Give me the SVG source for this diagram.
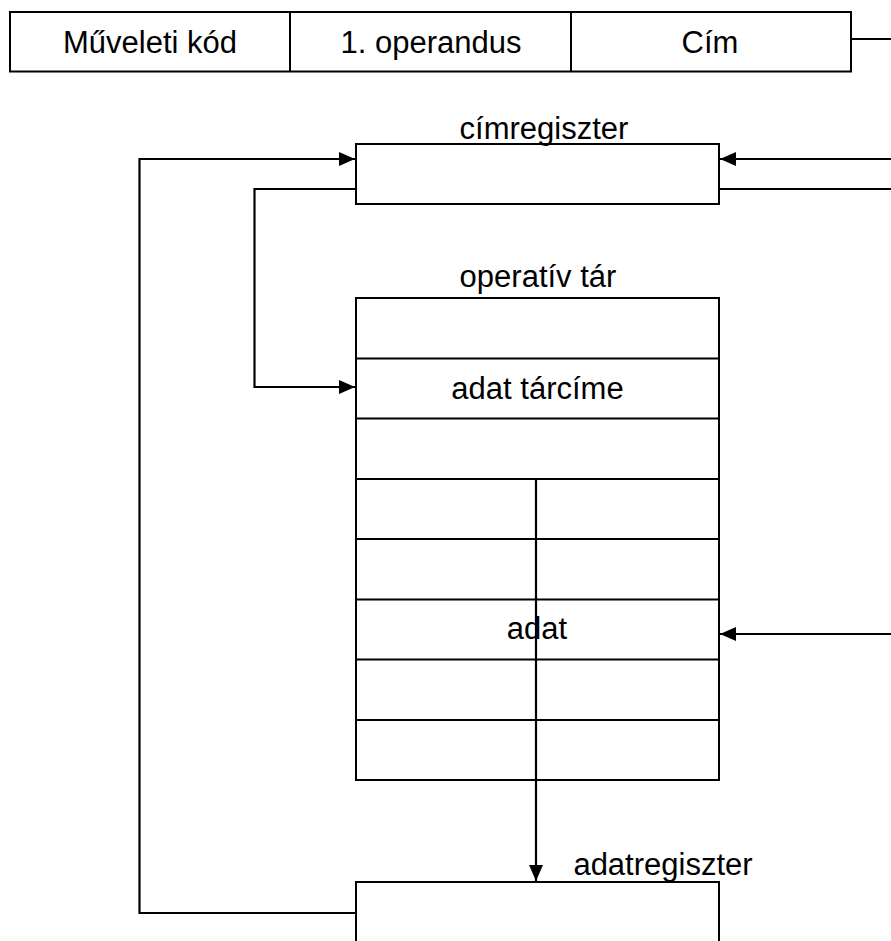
<svg xmlns="http://www.w3.org/2000/svg" width="891" height="941" viewBox="0 0 891 941">
  <style>
    .box { fill: #ffffff; stroke: #000000; stroke-width: 2; }
    .rule { stroke: #000000; stroke-width: 2; fill: none; }
    .wire { stroke: #000000; stroke-width: 2.2; fill: none; }
    .lbl { font-family: "Liberation Sans", Arial, sans-serif; font-size: 31px; fill: #000000; text-anchor: middle; }
  </style>
  <defs>
    <marker id="arrow" markerUnits="userSpaceOnUse" markerWidth="16" markerHeight="14" refX="16" refY="7" orient="auto">
      <path d="M0,0 L16,7 L0,14 z" fill="#000000"/>
    </marker>
  </defs>

  <rect width="891" height="941" fill="#ffffff"/>

  <!-- instruction word -->
  <g id="utasitas">
    <rect class="box" x="10" y="12" width="841" height="59.5"/>
    <line class="rule" x1="290" y1="12" x2="290" y2="71.5"/>
    <line class="rule" x1="571" y1="12" x2="571" y2="71.5"/>
    <text class="lbl" x="150" y="53">Műveleti kód</text>
    <text class="lbl" x="431" y="53">1. operandus</text>
    <text class="lbl" x="710" y="53">Cím</text>
  </g>

  <!-- address register -->
  <g id="cimregiszter">
    <rect class="box" x="356" y="144" width="363" height="60"/>
    <text class="lbl" x="544" y="139">címregiszter</text>
  </g>

  <!-- main memory -->
  <g id="operativ-tar">
    <rect class="box" x="356" y="298" width="363" height="482"/>
    <line class="rule" x1="356" y1="358.5" x2="719" y2="358.5"/>
    <line class="rule" x1="356" y1="418.5" x2="719" y2="418.5"/>
    <line class="rule" x1="356" y1="479" x2="719" y2="479"/>
    <line class="rule" x1="356" y1="539" x2="719" y2="539"/>
    <line class="rule" x1="356" y1="599.5" x2="719" y2="599.5"/>
    <line class="rule" x1="356" y1="659.5" x2="719" y2="659.5"/>
    <line class="rule" x1="356" y1="720" x2="719" y2="720"/>
    <text class="lbl" x="538" y="287">operatív tár</text>
    <text class="lbl" x="537.5" y="399">adat tárcíme</text>
    <text class="lbl" x="537" y="639">adat</text>
  </g>

  <!-- data register -->
  <g id="adatregiszter">
    <rect class="box" x="356" y="882" width="363" height="80"/>
    <text class="lbl" x="663" y="875">adatregiszter</text>
  </g>

  <!-- connectors -->
  <g id="connectors">
    <polyline class="wire" points="851,39 891,39"/>
    <polyline class="wire" points="891,159 720,159" marker-end="url(#arrow)"/>
    <polyline class="wire" points="719,189 891,189"/>
    <polyline class="wire" points="356,189 254.5,189 254.5,387 355,387" marker-end="url(#arrow)"/>
    <polyline class="wire" points="356,913 139.5,913 139.5,159 355,159" marker-end="url(#arrow)"/>
    <polyline class="wire" points="891,634 720,634" marker-end="url(#arrow)"/>
    <polyline class="wire" points="536,479 536,881" marker-end="url(#arrow)"/>
  </g>
</svg>
